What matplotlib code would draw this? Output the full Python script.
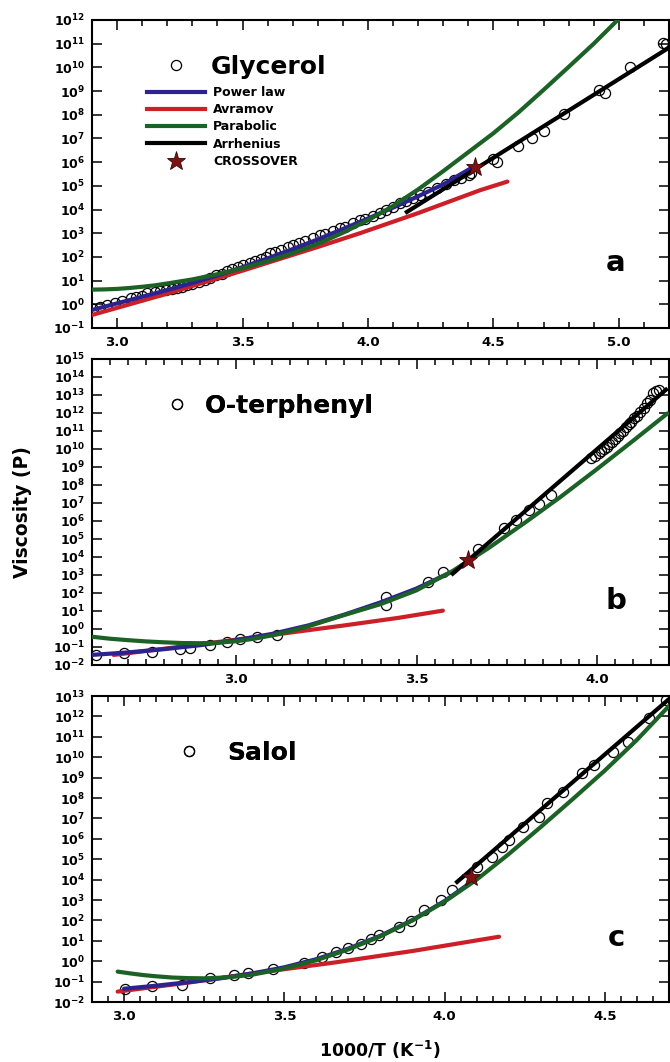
import numpy as np
import matplotlib
matplotlib.use("Agg")
import matplotlib.pyplot as plt
from matplotlib.lines import Line2D
from matplotlib.ticker import LogLocator, NullLocator, MultipleLocator, FuncFormatter, FormatStrFormatter

plt.rcParams['font.family'] = ['DejaVu Sans']
plt.rcParams['font.weight'] = 'bold'
plt.rcParams['mathtext.fontset'] = 'dejavusans'

# ---------------- data (x = 1000/T, y = log10 viscosity in P) ----------------
# Glycerol
gly_x = [2.905, 2.93, 2.96, 2.99, 3.02, 3.055, 3.075, 3.10, 3.12, 3.15, 3.17, 3.195, 3.22, 3.24,
         3.26, 3.28, 3.30, 3.328, 3.35, 3.37, 3.395, 3.42, 3.44, 3.46, 3.48, 3.50, 3.528, 3.55,
         3.575, 3.595, 3.608, 3.63, 3.655, 3.68, 3.70, 3.725, 3.75, 3.78, 3.808, 3.83, 3.86,
         3.888, 3.91, 3.94, 3.968, 3.99, 4.02, 4.048, 4.07, 4.10, 4.128, 4.15, 4.18, 4.208, 4.24,
         4.275, 4.31, 4.341, 4.37, 4.401, 4.41, 4.50, 4.516, 4.60, 4.652, 4.70, 4.78, 4.92, 4.944,
         5.044, 5.176, 5.19]
gly_y = [-0.18, -0.10, -0.02, 0.05, 0.13, 0.25, 0.30, 0.36, 0.46, 0.50, 0.55, 0.60, 0.64, 0.69,
         0.74, 0.80, 0.86, 0.95, 1.04, 1.12, 1.24, 1.30, 1.40, 1.48, 1.58, 1.64, 1.73, 1.82,
         1.92, 2.00, 2.15, 2.20, 2.30, 2.40, 2.50, 2.58, 2.68, 2.80, 2.92, 2.98, 3.08,
         3.20, 3.28, 3.42, 3.56, 3.62, 3.72, 3.84, 3.96, 4.10, 4.26, 4.34, 4.48, 4.61, 4.74,
         4.89, 5.06, 5.25, 5.34, 5.46, 5.54, 6.13, 6.00, 6.68, 7.02, 7.31, 8.03, 9.05, 8.92,
         10.02, 11.03, 11.0]
gly_pow_x = [2.9, 3.0, 3.1, 3.2, 3.3, 3.4, 3.5, 3.6, 3.7, 3.8, 3.9, 4.0, 4.1, 4.2, 4.3, 4.41]
gly_pow_y = [-0.24, 0.04, 0.32, 0.60, 0.90, 1.22, 1.57, 1.94, 2.33, 2.74, 3.18, 3.62, 4.08, 4.56, 5.06, 5.74]
gly_avr_x = [2.9, 3.2, 3.5, 3.8, 3.968, 4.2, 4.448, 4.556]
gly_avr_y = [-0.45, 0.45, 1.42, 2.42, 3.0, 3.85, 4.82, 5.18]
gly_par_x = [2.9, 2.95, 3.0, 3.05, 3.1, 3.15, 3.2, 3.3, 3.4, 3.5, 3.6, 3.7, 3.8, 3.9, 4.0, 4.1,
             4.2, 4.3, 4.4, 4.5, 4.6, 4.7, 4.8, 4.9, 5.0]
gly_par_y = [0.62, 0.63, 0.65, 0.69, 0.74, 0.80, 0.88, 1.05, 1.27, 1.52, 1.82, 2.16, 2.55, 3.02,
             3.55, 4.15, 4.85, 5.62, 6.42, 7.22, 8.10, 9.05, 10.02, 11.0, 12.05]
gly_arr_x = [4.148, 5.204]
gly_arr_y = [3.85, 10.86]
gly_cross = (4.425, 5.78)

# O-terphenyl
otp_x = [2.61, 2.688, 2.767, 2.845, 2.873, 2.928, 2.974, 3.011, 3.057, 3.112, 3.416, 3.416,
         3.531, 3.573, 3.669, 3.743, 3.775, 3.812, 3.84, 3.872, 3.983, 3.995, 4.005, 4.012,
         4.02, 4.028, 4.035, 4.042, 4.05, 4.058, 4.065, 4.072, 4.08, 4.088, 4.095, 4.102, 4.11,
         4.12, 4.13, 4.139, 4.148, 4.157, 4.165, 4.171]
otp_y = [-1.44, -1.35, -1.26, -1.13, -1.07, -0.89, -0.70, -0.57, -0.43, -0.33, 1.79, 1.33,
         2.63, 3.18, 4.43, 5.59, 6.06, 6.61, 6.94, 7.44, 9.48, 9.62, 9.80, 9.90,
         10.02, 10.13, 10.28, 10.40, 10.55, 10.70, 10.87, 11.0, 11.2, 11.38, 11.52, 11.70, 11.85,
         12.07, 12.30, 12.54, 12.75, 13.09, 13.20, 13.28]
otp_pow_x = [2.6, 2.7, 2.8, 2.9, 3.0, 3.1, 3.2, 3.3, 3.4, 3.5, 3.6, 3.641]
otp_pow_y = [-1.44, -1.30, -1.12, -0.90, -0.62, -0.27, 0.20, 0.80, 1.48, 2.25, 3.20, 3.75]
otp_avr_x = [2.66, 2.9, 3.1, 3.3, 3.45, 3.573]
otp_avr_y = [-1.44, -0.85, -0.33, 0.20, 0.62, 1.02]
otp_par_x = [2.6, 2.65, 2.7, 2.75, 2.8, 2.85, 2.9, 2.95, 3.0, 3.05, 3.1, 3.15, 3.2, 3.3, 3.4,
             3.5, 3.6, 3.7, 3.8, 3.9, 4.0, 4.1, 4.196]
otp_par_y = [-0.43, -0.54, -0.62, -0.69, -0.74, -0.78, -0.79, -0.76, -0.68, -0.54, -0.35, -0.12,
             0.15, 0.78, 1.38, 2.15, 3.22, 4.50, 5.90, 7.35, 8.88, 10.45, 11.98]
otp_arr_x = [3.596, 4.196]
otp_arr_y = [3.0, 13.37]
otp_cross = (3.642, 3.83)

# Salol
sal_x = [3.003, 3.087, 3.18, 3.269, 3.342, 3.388, 3.465, 3.56, 3.618, 3.66, 3.70, 3.738, 3.769,
         3.795, 3.857, 3.894, 3.936, 3.988, 4.024, 4.102, 4.149, 4.18, 4.20, 4.243, 4.295, 4.32,
         4.368, 4.43, 4.467, 4.524, 4.571, 4.639, 4.691]
sal_y = [-1.38, -1.22, -1.17, -0.84, -0.68, -0.59, -0.40, -0.07, 0.22, 0.47, 0.64, 0.85, 1.07,
         1.28, 1.69, 1.99, 2.51, 3.0, 3.49, 4.63, 5.09, 5.61, 5.94, 6.59, 7.08, 7.74,
         8.31, 9.21, 9.62, 10.27, 10.76, 11.91, 12.8]
sal_pow_x = [3.0, 3.1, 3.2, 3.3, 3.4, 3.5, 3.6, 3.7, 3.8, 3.9, 4.0, 4.081]
sal_pow_y = [-1.35, -1.20, -1.03, -0.84, -0.60, -0.30, 0.10, 0.62, 1.25, 2.02, 2.95, 3.85]
sal_avr_x = [2.98, 3.2, 3.4, 3.654, 3.9, 4.17]
sal_avr_y = [-1.49, -1.05, -0.60, -0.07, 0.50, 1.20]
sal_par_x = [2.98, 3.02, 3.06, 3.1, 3.15, 3.2, 3.25, 3.3, 3.35, 3.4, 3.5, 3.6, 3.7, 3.8, 3.9,
             4.0, 4.1, 4.2, 4.3, 4.4, 4.5, 4.6, 4.703]
sal_par_y = [-0.51, -0.60, -0.68, -0.74, -0.80, -0.83, -0.84, -0.81, -0.75, -0.66, -0.36, 0.05,
             0.58, 1.22, 2.00, 2.92, 4.00, 5.25, 6.58, 7.95, 9.35, 10.85, 12.56]
sal_arr_x = [4.034, 4.703]
sal_arr_y = [3.82, 12.89]
sal_cross = (4.081, 4.14)

legend_labels = ["Power law", "Avramov", "Parabolic", "Arrhenius", "CROSSOVER"]

C_POW = '#2d2390'
C_AVR = '#cc1f27'
C_PAR = '#1c6226'
C_ARR = '#000000'
C_STAR = '#7d1212'
LW = 3.0

def p(v):
    return 10.0 ** np.asarray(v, dtype=float)

fig = plt.figure(figsize=(6.7, 10.62), dpi=100)
left, width = 92 / 670, 577 / 670
axa = fig.add_axes([left, (1062 - 328) / 1062, width, 308 / 1062])
axb = fig.add_axes([left, (1062 - 665) / 1062, width, 306 / 1062])
axc = fig.add_axes([left, (1062 - 1002) / 1062, width, 306 / 1062])

panels = [
    (axa, gly_x, gly_y, gly_pow_x, gly_pow_y, gly_avr_x, gly_avr_y, gly_par_x, gly_par_y,
     gly_arr_x, gly_arr_y, gly_cross, (2.9, 5.2), (-1, 12), 0.1, 'a', 'Glycerol'),
    (axb, otp_x, otp_y, otp_pow_x, otp_pow_y, otp_avr_x, otp_avr_y, otp_par_x, otp_par_y,
     otp_arr_x, otp_arr_y, otp_cross, (2.6, 4.2), (-2, 15), 0.05, 'b', 'O-terphenyl'),
    (axc, sal_x, sal_y, sal_pow_x, sal_pow_y, sal_avr_x, sal_avr_y, sal_par_x, sal_par_y,
     sal_arr_x, sal_arr_y, sal_cross, (2.9, 4.7), (-2, 13), 0.05, 'c', 'Salol'),
]

def fmt_log(v, pos):
    if v <= 0:
        return ''
    e = int(round(np.log10(v)))
    return r'$\mathbf{10^{%d}}$' % e

for (ax, dx, dy, pwx, pwy, avx, avy, pax, pay, arx, ary, cross, xl, yl, minor,
     letter, name) in panels:
    ax.set_yscale('log')
    ax.plot(dx, p(dy), linestyle='none', marker='o', markersize=7.3, markerfacecolor='none',
            markeredgecolor='black', markeredgewidth=0.9, zorder=2)
    ax.plot(avx, p(avy), color=C_AVR, lw=LW, solid_capstyle='round', zorder=3)
    ax.plot(pwx, p(pwy), color=C_POW, lw=LW, solid_capstyle='round', zorder=3)
    ax.plot(pax, p(pay), color=C_PAR, lw=LW, solid_capstyle='round', zorder=3)
    ax.plot(arx, p(ary), color=C_ARR, lw=LW, solid_capstyle='butt', zorder=4)
    ax.plot([cross[0]], p([cross[1]]), linestyle='none', marker='*', markersize=14,
            markerfacecolor=C_STAR, markeredgecolor='#3a0505', markeredgewidth=0.6, zorder=6)
    ax.set_xlim(*xl)
    ax.set_ylim(10.0 ** yl[0], 10.0 ** yl[1])
    ax.xaxis.set_major_locator(MultipleLocator(0.5))
    ax.xaxis.set_minor_locator(MultipleLocator(minor))
    ax.xaxis.set_major_formatter(FormatStrFormatter('%.1f'))
    ax.yaxis.set_major_locator(LogLocator(base=10, numticks=40))
    ax.yaxis.set_minor_locator(NullLocator())
    ax.yaxis.set_major_formatter(FuncFormatter(fmt_log))
    ax.tick_params(which='both', direction='in', top=True, right=True, width=1.1)
    ax.tick_params(which='major', length=7)
    ax.tick_params(which='minor', length=4.5)
    ax.tick_params(axis='x', labelsize=9.5, pad=6)
    ax.tick_params(axis='y', labelsize=9, pad=5)
    for lab in ax.get_xticklabels():
        lab.set_fontweight('bold')
    for s in ax.spines.values():
        s.set_linewidth(1.5)
    ax.text(0.908, 0.21, letter, transform=ax.transAxes, fontsize=21, fontweight='bold',
            ha='center', va='center')

# name legends
name_pos = {axa: (0.124, 0.847, 0.9), axb: (0.125, 0.847, 0.63), axc: (0.147, 0.815, 1.0)}
for (ax, *_rest) in panels:
    name = _rest[-1]
    x0, y0, pad = name_pos[ax]
    h = Line2D([], [], linestyle='none', marker='o', markersize=7.3, markerfacecolor='none',
               markeredgecolor='black', markeredgewidth=0.9)
    leg = ax.legend([h], [name], loc='center left', bbox_to_anchor=(x0, y0),
                    frameon=False, borderpad=0, borderaxespad=0, handlelength=1.0,
                    handletextpad=pad, prop={'size': 18, 'weight': 'bold'})
    ax.add_artist(leg)

# model legend in panel a
handles = [Line2D([], [], color=C_POW, lw=LW),
           Line2D([], [], color=C_AVR, lw=LW),
           Line2D([], [], color=C_PAR, lw=LW),
           Line2D([], [], color=C_ARR, lw=LW),
           Line2D([], [], linestyle='none', marker='*', markersize=14,
                  markerfacecolor=C_STAR, markeredgecolor='#3a0505', markeredgewidth=0.6)]
axa.legend(handles, legend_labels, loc='upper left', bbox_to_anchor=(0.0953, 0.786),
           frameon=False, borderpad=0, borderaxespad=0, handlelength=4.64,
           handletextpad=0.64, labelspacing=0.34, prop={'size': 9, 'weight': 'bold'})

fig.text(0.033, 0.518, 'Viscosity (P)', rotation=90, ha='center', va='center',
         fontsize=13.5, fontweight='bold')
fig.text(0.567, 0.0113, r'1000/T (K$^{\mathbf{-1}}$)', ha='center', va='center',
         fontsize=12.5, fontweight='bold')

fig.savefig('out.png', dpi=100)
